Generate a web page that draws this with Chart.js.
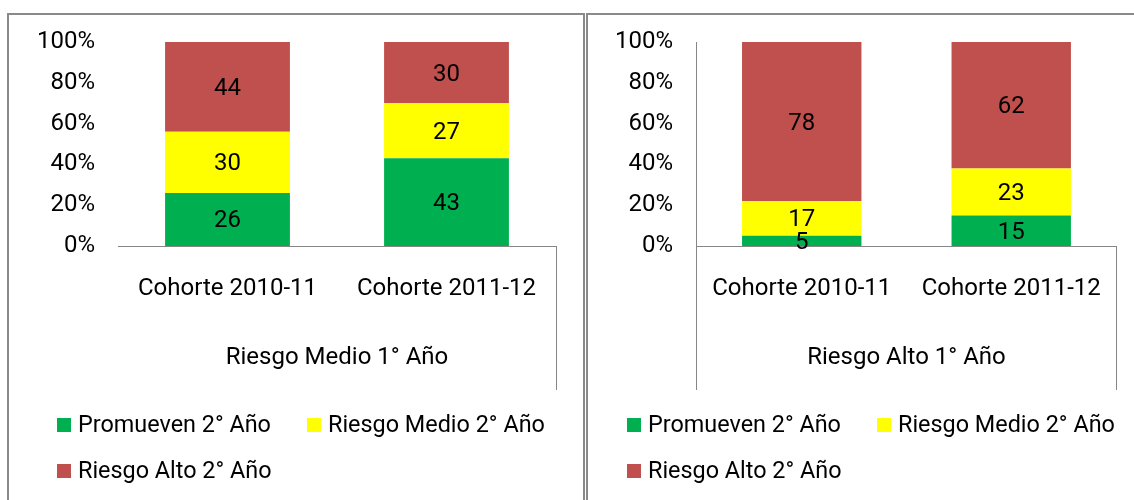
<!DOCTYPE html>
<html lang="es">
<head>
<meta charset="utf-8">
<title>Riesgo 1° Año por cohorte</title>
<script src="https://cdn.jsdelivr.net/npm/chart.js@4.4.1/dist/chart.umd.min.js"></script>
<style>
  html, body { margin: 0; padding: 0; background: #fff; }
  body { width: 1134px; height: 500px; position: relative; overflow: hidden; }
  .marco { position: absolute; border: 2px solid #8a8a8a; box-sizing: border-box; }
  #marco1 { left: 7px; top: 13px; width: 578px; height: 520px; }
  #marco2 { left: 586px; top: 13px; width: 560px; height: 520px; }
  canvas { position: absolute; top: 0; }
  #grafico1 { left: 0; }
  #grafico2 { left: 585px; }
</style>
</head>
<body>
<div class="marco" id="marco1"></div>
<div class="marco" id="marco2"></div>
<canvas id="grafico1" width="585" height="500"></canvas>
<canvas id="grafico2" width="549" height="500"></canvas>

<script>
// datos
const cohortes = ["Cohorte 2010-11", "Cohorte 2011-12"];
const series = ["Promueven 2° Año", "Riesgo Medio 2° Año", "Riesgo Alto 2° Año"];
const colores = ["#00B050", "#FFFF00", "#C0504D"];
const pasosY = [0, 20, 40, 60, 80, 100];

// Riesgo Medio 1° Año
const medioPromueven = [26, 43];
const medioRiesgoMedio = [30, 27];
const medioRiesgoAlto = [44, 30];

// Riesgo Alto 1° Año
const altoPromueven = [5, 15];
const altoRiesgoMedio = [17, 23];
const altoRiesgoAlto = [78, 62];

const GRIS = "#868686";
Chart.defaults.font.family = "Roboto";
Chart.defaults.font.size = 24;
Chart.defaults.color = "#000";

// numeros dentro de cada tramo de la barra
const etiquetas = {
  id: "etiquetas",
  afterDatasetsDraw(chart) {
    const ctx = chart.ctx;
    ctx.save();
    ctx.font = "24px Roboto";
    ctx.fillStyle = "#000";
    ctx.textAlign = "center";
    ctx.textBaseline = "middle";
    chart.data.datasets.forEach((ds, i) => {
      chart.getDatasetMeta(i).data.forEach((bar, j) => {
        ctx.fillText(ds.data[j], bar.x, (bar.y + bar.base) / 2 + 2);
      });
    });
    ctx.restore();
  }
};

// lineas verticales del eje de categorias
const marcoEje = {
  id: "marcoEje",
  afterDraw(chart, args, opts) {
    const ctx = chart.ctx;
    const area = chart.chartArea;
    const ejeX = chart.scales.x;
    ctx.save();
    ctx.strokeStyle = GRIS;
    ctx.lineWidth = 1;
    ctx.beginPath();
    const xd = Math.round(area.right) + 0.5;
    ctx.moveTo(xd, ejeX.top);
    ctx.lineTo(xd, ejeX.bottom);
    if (opts.izquierda) {
      const xi = Math.round(area.left) - 0.5;
      ctx.moveTo(xi, area.top);
      ctx.lineTo(xi, ejeX.bottom);
    }
    ctx.stroke();
    ctx.restore();
  }
};

// leyenda dibujada a mano (dos columnas)
const leyendaManual = {
  id: "leyendaManual",
  afterDraw(chart, args, opts) {
    const ctx = chart.ctx;
    ctx.save();
    ctx.font = "23.4px Roboto";
    ctx.textBaseline = "middle";
    ctx.textAlign = "left";
    chart.data.datasets.forEach((ds, i) => {
      const col = i < 2 ? i : 0;
      const fila = i < 2 ? 0 : 1;
      const x = opts.x + col * opts.paso;
      const y = opts.y + fila * opts.alto;
      ctx.fillStyle = ds.backgroundColor;
      ctx.fillRect(x, y - 7, 14, 14);
      ctx.fillStyle = "#000";
      ctx.fillText(ds.label, x + 21, y + 1);
    });
    ctx.restore();
  }
};

function CrearGrafico(id, valores, titulo, cfg) {
  const datasets = series.map((nombre, i) => ({
    label: nombre,
    data: valores[i],
    backgroundColor: colores[i],
    barPercentage: 0.57,
    categoryPercentage: 1
  }));

  return new Chart(document.getElementById(id), {
    type: "bar",
    data: { labels: cohortes, datasets: datasets },
    options: {
      responsive: false,
      animation: false,
      layout: { padding: cfg.padding },
      plugins: {
        legend: { display: false },
        tooltip: { enabled: false },
        marcoEje: { izquierda: cfg.ejeIzq },
        leyendaManual: { x: cfg.leyendaX, y: 425, paso: 250, alto: 46 }
      },
      scales: {
        x: {
          stacked: true,
          grid: { display: false, drawTicks: false },
          border: { display: true, color: GRIS },
          ticks: { padding: 29, font: { size: 24 } },
          title: { display: true, text: titulo, font: { size: 24 }, padding: { top: 0, bottom: 18 } },
          afterFit: (s) => { s.height = 144; }
        },
        y: {
          stacked: true,
          min: 0,
          max: 100,
          grid: { display: false, drawTicks: false },
          border: { display: false },
          afterBuildTicks: (s) => { s.ticks = pasosY.map(v => ({ value: v })); },
          ticks: { padding: cfg.tickPad, callback: (v) => v + "%" },
          afterFit: (s) => { s.width = cfg.anchoY; }
        }
      }
    },
    plugins: [etiquetas, marcoEje, leyendaManual]
  });
}

CrearGrafico("grafico1",
  [medioPromueven, medioRiesgoMedio, medioRiesgoAlto],
  "Riesgo Medio 1° Año",
  { padding: { left: 10, right: 29, top: 42, bottom: 110 }, anchoY: 108, tickPad: 23, ejeIzq: false, leyendaX: 57 });

CrearGrafico("grafico2",
  [altoPromueven, altoRiesgoMedio, altoRiesgoAlto],
  "Riesgo Alto 1° Año",
  { padding: { left: 0, right: 17, top: 42, bottom: 110 }, anchoY: 112, tickPad: 24, ejeIzq: true, leyendaX: 42 });
</script>
</body>
</html>
